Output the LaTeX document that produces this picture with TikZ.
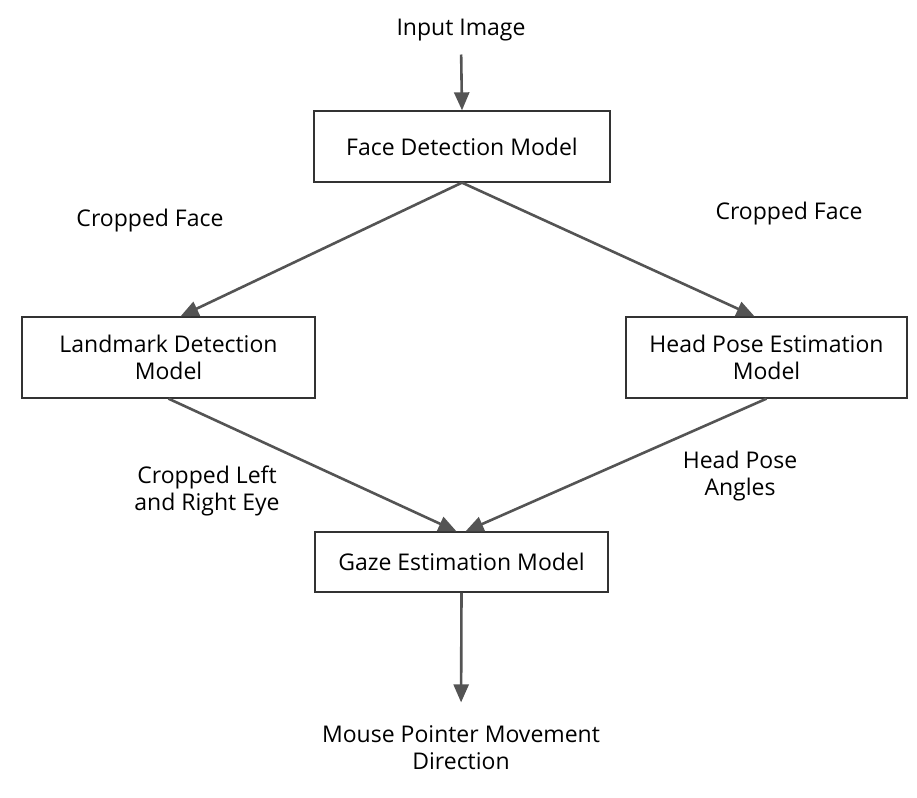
\documentclass[tikz,border=0pt]{standalone}
\usepackage{fontspec}
\setmainfont{Open Sans}
\usetikzlibrary{arrows.meta}

\begin{document}
\begin{tikzpicture}[x=1pt, y=-1pt,
    model/.style={draw=black!80, line width=1.3pt, fill=white, align=center,
      font=\fontsize{23}{27}\selectfont},
    label/.style={align=center, font=\fontsize{23}{27}\selectfont},
    flow/.style={draw=black!67, line width=2.6pt,
      -{Triangle[length=18pt, width=15pt]}}]
    \useasboundingbox (0, 0) rectangle (917, 797);

    \node[label] (input) at (461, 30) {Input Image};
    \node[model, minimum width=296pt, minimum height=71pt] (face) at (462, 146.5) {Face Detection Model};
    \node[model, minimum width=293pt, minimum height=81pt] (landmark) at (168.5, 357.5) {Landmark Detection\\Model};
    \node[model, minimum width=281pt, minimum height=81pt] (headpose) at (766.5, 357.5) {Head Pose Estimation\\Model};
    \node[model, minimum width=293pt, minimum height=60pt] (gaze) at (461.5, 562) {Gaze Estimation Model};
    \node[label] (mouse) at (461, 748) {Mouse Pointer Movement\\Direction};

    \node[label] (cropL) at (150, 221) {Cropped Face};
    \node[label] (cropR) at (789, 214) {Cropped Face};
    \node[label] (eyes) at (207, 491) {Cropped Left\\and Right Eye};
    \node[label] (angles) at (740, 476) {Head Pose\\Angles};

    \draw[flow, shorten <=10pt] (input.south) to (face.north);
    \draw[flow] (face.south) to ([xshift=12pt]landmark.north);
    \draw[flow] (face.south) to ([xshift=-12pt]headpose.north);
    \draw[flow] (landmark.south) to ([xshift=-5pt]gaze.north);
    \draw[flow] (headpose.south) to ([xshift=4pt]gaze.north);
    \draw[flow, shorten >=20pt] (gaze.south) to (mouse.north);
  \end{tikzpicture}
\end{document}
